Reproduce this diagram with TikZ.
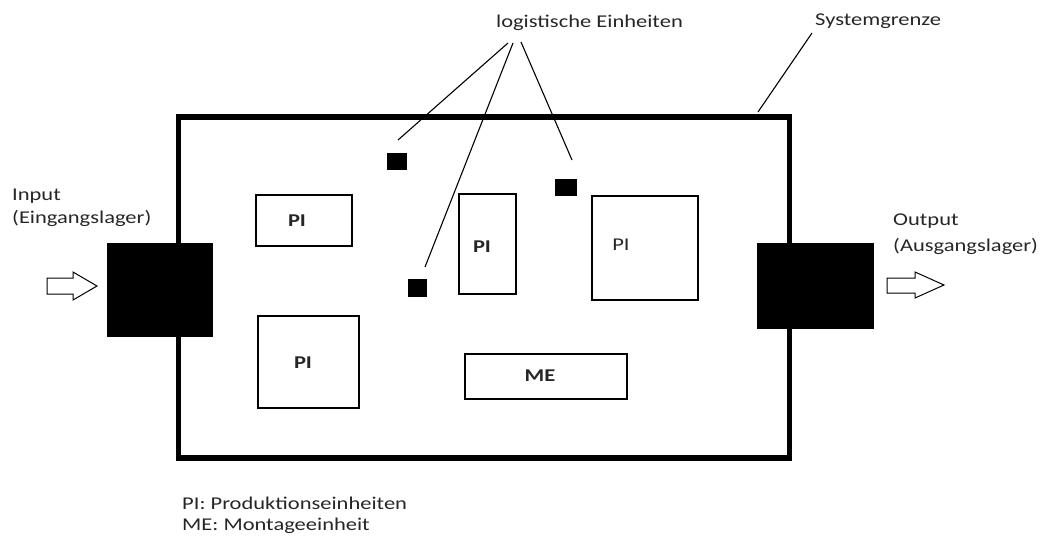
\documentclass[tikz,border=0pt]{standalone}
\usepackage{fontspec}
\setmainfont{Carlito}[FakeStretch=1.25]
\begin{document}
\begin{tikzpicture}[x=1pt,y=-1pt,
  txt/.style={inner sep=0pt, text=black!85, font=\fontsize{18}{23}\selectfont},
  boldtxt/.style={txt, font=\fontsize{18}{23}\selectfont\bfseries},
  unit/.style={draw=black, line width=1.8pt, fill=white, inner sep=0pt},
  store/.style={fill=black, inner sep=0pt},
  carrier/.style={fill=black, inner sep=0pt, minimum width=20pt, minimum height=17pt},
  lead/.style={line width=1.1pt},
  flow/.style={draw=black, line width=1pt, fill=white, line join=miter}]
\useasboundingbox (0,0) rectangle (1045,539);

% system boundary
\node[draw=black, line width=5.5pt, inner sep=0pt, minimum width=611pt, minimum height=341pt]
  (sys) at (484,287.5) {};

% input and output stores
\node[store, minimum width=106pt, minimum height=94pt] (in) at (160,290) {};
\node[store, minimum width=117pt, minimum height=86pt] (out) at (815.5,286) {};

% production units and assembly unit
\node[unit, minimum width=96pt, minimum height=51pt] (pi1) at (304,220.5) {};
\node[boldtxt] at (297,221) {PI};
\node[unit, minimum width=57pt, minimum height=100pt] (pi2) at (487.5,244) {};
\node[boldtxt] at (482,247) {PI};
\node[unit, minimum width=106pt, minimum height=104pt] (pi3) at (645,248) {};
\node[txt] at (621,245) {PI};
\node[unit, minimum width=101pt, minimum height=92pt] (pi4) at (308.5,362) {};
\node[boldtxt] at (303,363) {PI};
\node[unit, minimum width=162pt, minimum height=45pt] (me) at (546,376.5) {};
\node[boldtxt] at (540,376) {ME};

% logistic units (carriers)
\node[carrier] (c1) at (397,161.5) {};
\node[carrier, minimum width=22pt] (c2) at (566,187.5) {};
\node[carrier, minimum width=19pt, minimum height=18pt] (c3) at (417.5,288) {};

% input / output flow arrows
\draw[flow] (47,278) -- (73,278) -- (73,272) -- (97,286) -- (73,300) -- (73,294) -- (47,294) -- cycle;
\draw[flow] (887,278) -- (915,278) -- (915,272) -- (944,285) -- (915,298) -- (915,293) -- (887,293) -- cycle;

% labels
\node[txt, anchor=base west] (inlbl) at (12,200) {Input};
\node[txt, anchor=base west] (inlbl2) at (12,223) {(Eingangslager)};
\node[txt, anchor=base west] (outlbl) at (893,225) {Output};
\node[txt, anchor=base west] (outlbl2) at (893,251) {(Ausgangslager)};
\node[txt, anchor=base] (lu) at (589.5,27) {logistische Einheiten};
\node[txt, anchor=base west] (sg) at (815,25) {Systemgrenze};
\node[txt, anchor=base west] (leg1) at (182,509) {PI: Produktionseinheiten};
\node[txt, anchor=base west] (leg2) at (182,530) {ME: Montageeinheit};

% leader lines
\coordinate (lu1) at (508,43);
\coordinate (lu2) at (513,43);
\coordinate (lu3) at (521,42);
\coordinate (e1) at (398,140);
\coordinate (e2) at (425,267);
\coordinate (e3) at (572,160);
\coordinate (sg1) at (812,33);
\coordinate (sg2) at (758,112);
\draw[lead] (lu1) -- (e1);
\draw[lead] (lu2) -- (e2);
\draw[lead] (lu3) -- (e3);
\draw[lead] (sg1) -- (sg2);
\end{tikzpicture}
\end{document}
